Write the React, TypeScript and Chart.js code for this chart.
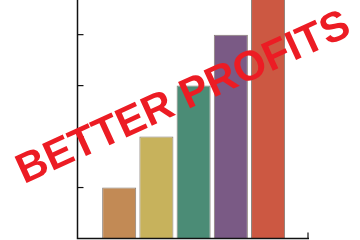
import React, { useEffect, useRef } from "react";
import { Chart, registerables } from "chart.js";

Chart.register(...registerables);

const categories = [1, 2, 3, 4, 5];
const values = [1, 2, 3, 4, 5];
const barColors = ["#c28a55", "#c7b25c", "#4b8c76", "#7a5a85", "#cc5842"];
const yTicks = [1, 2, 3, 4];
const overlayText = "BETTER PROFITS";

const axesPlugin = {
  id: "customAxes",
  afterDatasetsDraw(chart: any) {
    const { ctx, chartArea, scales } = chart;
    const y = scales.y;
    ctx.save();
    ctx.strokeStyle = "#111";
    ctx.lineWidth = 1.5;
    ctx.beginPath();
    ctx.moveTo(chartArea.left, chartArea.top);
    ctx.lineTo(chartArea.left, chartArea.bottom);
    ctx.lineTo(chartArea.right, chartArea.bottom);
    ctx.stroke();
    ctx.lineWidth = 1.2;
    yTicks.forEach((t) => {
      const py = y.getPixelForValue(t);
      ctx.beginPath();
      ctx.moveTo(chartArea.left, py);
      ctx.lineTo(chartArea.left + 6, py);
      ctx.stroke();
    });
    ctx.beginPath();
    ctx.moveTo(chartArea.right - 1, chartArea.bottom);
    ctx.lineTo(chartArea.right - 1, chartArea.bottom - 6);
    ctx.stroke();
    ctx.restore();
  },
  afterDraw(chart: any) {
    const { ctx } = chart;
    ctx.save();
    ctx.translate(183.7, 98.6);
    ctx.rotate((-24.5 * Math.PI) / 180);
    ctx.fillStyle = "#ec1c24";
    ctx.font = "bold 42px 'Liberation Sans', Arial, sans-serif";
    ctx.textAlign = "center";
    ctx.textBaseline = "middle";
    ctx.fillText(overlayText, 0, 0);
    ctx.restore();
  },
};

export default function App() {
  const ref = useRef<HTMLCanvasElement | null>(null);
  useEffect(() => {
    if (!ref.current) return;
    const chart = new Chart(ref.current, {
      type: "bar",
      data: {
        datasets: [
          {
            data: categories.map((c, i) => ({ x: c, y: values[i] })),
            backgroundColor: barColors,
            borderColor: "rgba(70,55,45,0.65)",
            borderWidth: 1,
            categoryPercentage: 1,
            barPercentage: 0.915,
          },
        ],
      },
      options: {
        animation: false,
        responsive: false,
        maintainAspectRatio: false,
        layout: { padding: { left: 77.5, top: 0, right: 51, bottom: 1.5 } },
        plugins: { legend: { display: false }, tooltip: { enabled: false } },
        scales: {
          x: {
            type: "linear",
            display: false,
            offset: false,
            min: -0.12,
            max: 6.1,
            afterBuildTicks: (scale: any) => {
              scale.ticks = categories.map((v) => ({ value: v }));
            },
          },
          y: { display: false, min: 0, max: 4.68 },
        },
      },
      plugins: [axesPlugin],
    });
    return () => chart.destroy();
  }, []);
  return (
    <div style={{ position: "absolute", left: 0, top: 0, width: 360, height: 240, background: "#fff" }}>
      <canvas ref={ref} width={360} height={240} style={{ width: 360, height: 240 }} />
    </div>
  );
}
